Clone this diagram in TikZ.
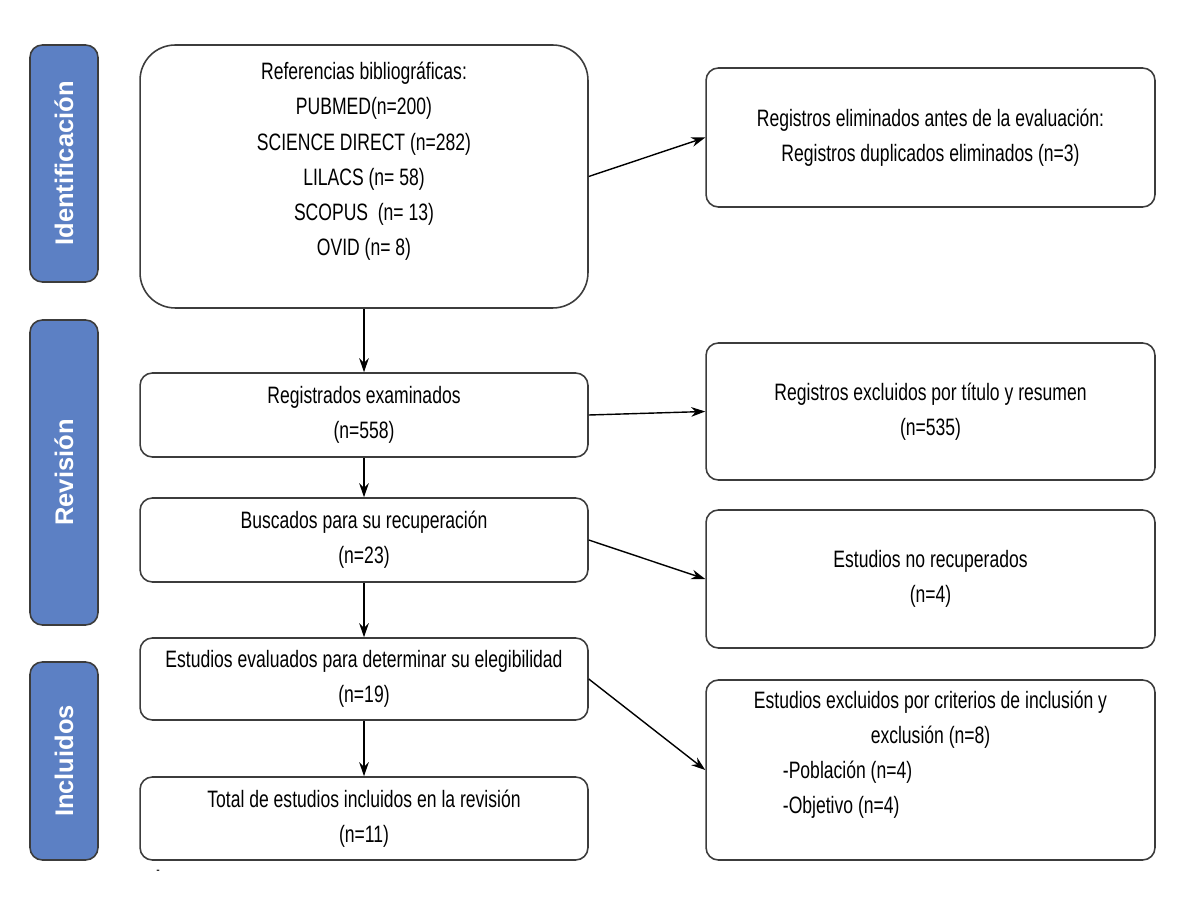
\documentclass[tikz,border=0pt]{standalone}
\usepackage{fontspec}
\setmainfont{Liberation Sans}[FakeStretch=0.74]
\newfontfamily\barfont{Liberation Sans}
\usetikzlibrary{arrows.meta}
\definecolor{barblue}{RGB}{92,128,196}
\definecolor{edge}{RGB}{60,60,60}
\tikzset{
	box/.style={draw=edge, line width=0.9pt, rounded corners=7pt, align=center, inner sep=2pt},
	leftbox/.style={box, minimum width=8.96cm},
	rightbox/.style={box, minimum width=8.98cm},
	phase/.style={draw=edge, line width=0.9pt, fill=barblue, rounded corners=7pt, rotate=90, minimum height=1.36cm, text=white, font=\barfont\bfseries\fontsize{14.5}{17}\selectfont},
}
\begin{document}
\begin{tikzpicture}[x=0.02cm, y=-0.02cm, font=\fontsize{13.5}{20}\selectfont, line join=round, >={Stealth[length=8pt,width=5.5pt]}]
	\useasboundingbox (0,0) rectangle (1195,901);
	
	% fases
	\node[phase, minimum width=4.74cm] (ident) at (64,163.5) {Identificación};
	\node[phase, minimum width=6.1cm] (revis) at (64,472.5) {Revisión};
	\node[phase, minimum width=3.96cm] (incl) at (64,761) {Incluidos};
	
	% columna izquierda
	\node[leftbox, minimum height=5.26cm, rounded corners=20pt] (ref) at (364,176.5) {Referencias bibliográficas:\\ PUBMED(n=200)\\ SCIENCE DIRECT (n=282)\\ LILACS (n= 58)\\ SCOPUS\ \ (n= 13)\\ OVID (n= 8)\\ ~};
	\node[leftbox, minimum height=1.68cm] (exam) at (364,415) {Registrados examinados\\ (n=558)};
	\node[leftbox, minimum height=1.68cm] (busc) at (364,540) {Buscados para su recuperación\\ (n=23)};
	\node[leftbox, minimum height=1.64cm] (eleg) at (364,679) {Estudios evaluados para determinar su elegibilidad\\ (n=19)};
	\node[leftbox, minimum height=1.66cm] (total) at (364,818.5) {Total de estudios incluidos en la revisión\\ (n=11)};
	
	% columna derecha
	\node[rightbox, minimum height=2.78cm] (dup) at (930.5,137.5) {Registros eliminados antes de la evaluación:\\ Registros duplicados eliminados (n=3)};
	\node[rightbox, minimum height=2.74cm] (excl) at (930.5,411.5) {Registros excluidos por título y resumen\\ (n=535)};
	\node[rightbox, minimum height=2.76cm] (norec) at (930.5,579) {Estudios no recuperados\\ (n=4)};
	\node[rightbox, minimum height=3.6cm] (crit) at (930.5,770) {Estudios excluidos por criterios de inclusión y\\ exclusión (n=8)\\ \makebox[168pt][l]{-Población (n=4)}\\ \makebox[168pt][l]{-Objetivo (n=4)}\\ ~};
	
	\node[font=\fontsize{8}{8}\selectfont] (tick) at (158,872) {-};
	
	% flechas
	\foreach \a/\b in {ref/exam, exam/busc, busc/eleg, eleg/total}{
		\draw[->, line width=0.8pt] (\a.south) -- (\b.north);
	};
	\foreach \a/\b in {ref/dup, exam/excl, busc/norec, eleg/crit}{
		\draw[->, line width=0.8pt] (\a.east) -- (\b.west);
	};
	
\end{tikzpicture}
\end{document}
